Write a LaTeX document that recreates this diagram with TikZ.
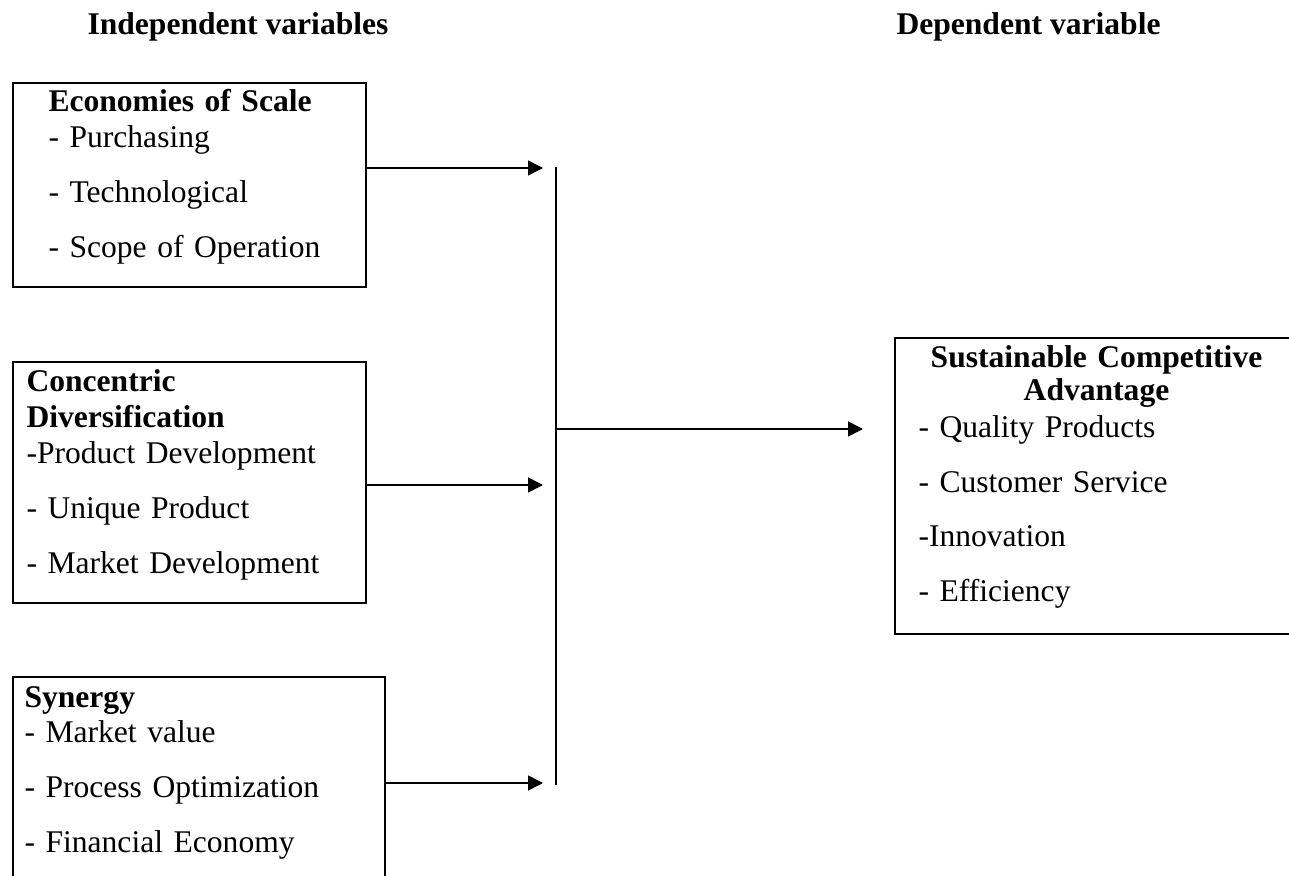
\documentclass[tikz,border=0pt]{standalone}
\usepackage{fontspec}
\setmainfont{Liberation Serif}
\usetikzlibrary{arrows.meta, positioning, calc}
\newcommand{\pxu}{0.38pt}

\begin{document}
\begin{tikzpicture}[
    x=0.38pt, y=-0.38pt,
    >={Triangle[length=5.7pt, width=5.7pt]},
    box/.style={draw, line width=0.8pt, anchor=north west, inner sep=0pt},
    txt/.style={anchor=base west, inner sep=0pt, align=left,
                font=\fontsize{12}{13.6}\selectfont},
    head/.style={anchor=base west, inner sep=0pt,
                 font=\fontsize{12}{13.6}\selectfont\bfseries},
    arr/.style={->, line width=0.6pt},
    bar/.style={line width=0.8pt},
]
\useasboundingbox (0,0) rectangle (1289,876);
\clip (0,0) rectangle (1289,876);
% ---- Column headings ----
\node[head] (hind) at (87,35)  {Independent variables};
\node[head] (hdep) at (896,35) {Dependent variable};

% ---- Independent variables (left column) ----
\node[box, minimum width=353*\pxu, minimum height=204*\pxu] (eos) at (12,82) {};
\node[txt, text width=310*\pxu] (eost) at (48,112)
    {\textbf{Economies of Scale}\\ - Purchasing\\[7.2pt] - Technological\\[7.2pt] - Scope of Operation};
\node[box, minimum width=353*\pxu, minimum height=241*\pxu] (cd) at (12,361) {};
\node[txt, text width=330*\pxu] (cdt) at (26,392)
    {\textbf{Concentric}\\ \textbf{Diversification}\\ -Product Development\\[7.2pt] - Unique Product\\[7.2pt] - Market Development};
\node[box, minimum width=372*\pxu, minimum height=250*\pxu] (syn) at (12,676) {};
\node[txt, text width=350*\pxu] (synt) at (24,707)
    {\textbf{Synergy}\\ - Market value\\[7.2pt] - Process Optimization\\[7.2pt] - Financial Economy};

% ---- Dependent variable (right column) ----
\node[box, minimum width=420*\pxu, minimum height=296*\pxu] (sca) at (894,337) {};
\node[txt, text width=356*\pxu] (scat) at (918,367)
    {\makebox[\linewidth][c]{\textbf{Sustainable Competitive}}\\[-1pt]
     \makebox[\linewidth][c]{\textbf{Advantage}}\\[0.6pt]
     - Quality Products\\[7.2pt] - Customer Service\\[7.2pt] -Innovation\\[7.2pt] - Efficiency};

% ---- Collecting bar and arrows ----
\coordinate (bartop) at (556,167);
\coordinate (barbot) at (556,785);
\coordinate (barmid) at (556,429);
\coordinate (tip1) at (543,168);
\coordinate (tip2) at (543,485);
\coordinate (tip3) at (543,783);
\coordinate (tip4) at (863,429);
\draw[bar] (bartop) -- (barbot);
\draw[arr] (eos.east |- tip1) -- (tip1);
\draw[arr] (cd.east |- tip2) -- (tip2);
\draw[arr] (syn.east |- tip3) -- (tip3);
\draw[arr] (barmid) -- (tip4);
\end{tikzpicture}
\end{document}
